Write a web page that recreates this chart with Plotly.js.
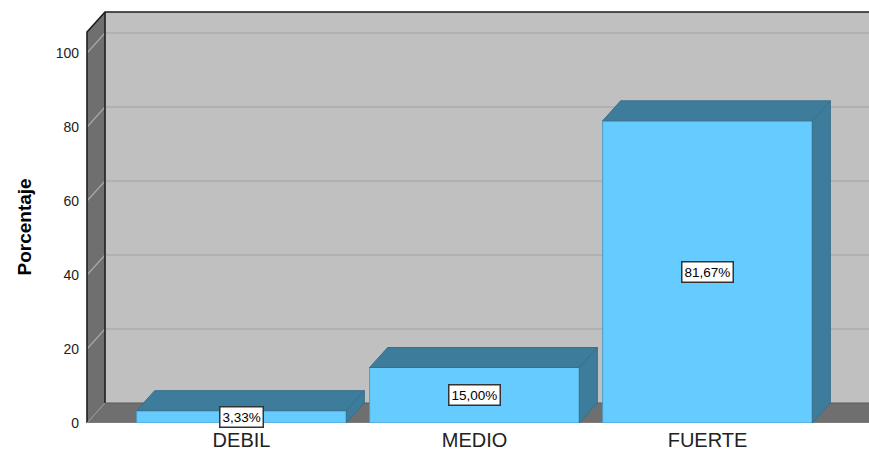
<!DOCTYPE html>
<html>
<head>
<meta charset="utf-8">
<script src="https://cdn.plot.ly/plotly-3.0.1.min.js"></script>
<style>html,body{margin:0;padding:0;background:#fff;}#chart{width:869px;height:452px;}</style>
</head>
<body>
<div id="chart"></div>
<script>
// ---- data ----
const categories = ['DEBIL', 'MEDIO', 'FUERTE'];
const percentages = [3.33, 15.00, 81.67];
const valueLabels = ['3,33%', '15,00%', '81,67%'];
const yTickVals = [0, 20, 40, 60, 80, 100];
const yTickText = ['0', '20', '40', '60', '80', '100'];
const yTitle = 'Porcentaje';

// ---- geometry (pseudo-3D) ----
const PX_PER_CAT = 233, CENTER0 = 241.5, PX_PER_UNIT = 3.7;
const ML = 80, MT = 10, MB = 29, W = 869, H = 452;
const xr0 = (ML - CENTER0) / PX_PER_CAT, xr1 = (W - CENTER0) / PX_PER_CAT;
const yr1 = (H - MT - MB) / PX_PER_UNIT;
const XL = (87 - CENTER0) / PX_PER_CAT;      // front edge of left wall
const XR = xr1 + 0.2;                         // beyond right edge
const DX = 18 / PX_PER_CAT, DY = 20 / PX_PER_UNIT;
const YTOP = (423 - 32) / PX_PER_UNIT;
const BW = 0.9;

const xs = categories.map((c, i) => i);

const wallGray = '#c0c0c0', sideGray = '#6f6f6f';
const shapes = [];
// back wall
shapes.push({type: 'rect', xref: 'x', yref: 'y', layer: 'below', x0: XL + DX, x1: XR, y0: DY, y1: YTOP + DY,
  fillcolor: wallGray, line: {width: 0}});
// back wall gridlines
yTickVals.slice(1).forEach(v => shapes.push({type: 'line', xref: 'x', yref: 'y', layer: 'below',
  x0: XL + DX, x1: XR, y0: v + DY, y1: v + DY, line: {color: '#acacac', width: 1.5}}));
// left wall
shapes.push({type: 'path', xref: 'x', yref: 'y', layer: 'below',
  path: `M${XL},0 L${XL},${YTOP} L${XL + DX},${YTOP + DY} L${XL + DX},${DY} Z`,
  fillcolor: sideGray, line: {width: 0}});
// floor
shapes.push({type: 'path', xref: 'x', yref: 'y', layer: 'below',
  path: `M${XL},0 L${XR},0 L${XR + DX},${DY} L${XL + DX},${DY} Z`,
  fillcolor: sideGray, line: {width: 0}});
// left wall gridlines
yTickVals.slice(1).forEach(v => shapes.push({type: 'line', xref: 'x', yref: 'y', layer: 'below',
  x0: XL, x1: XL + DX, y0: v, y1: v + DY, line: {color: '#a8a8a8', width: 1.2}}));
// outlines
const edge = {color: '#1e1e1e', width: 1.6};
shapes.push({type: 'path', xref: 'x', yref: 'y', layer: 'below',
  path: `M${XL},0 L${XL},${YTOP} L${XL + DX},${YTOP + DY} L${XR},${YTOP + DY}`, line: edge});
shapes.push({type: 'line', xref: 'x', yref: 'y', layer: 'below',
  x0: XL + DX, x1: XL + DX, y0: DY, y1: YTOP + DY, line: edge});
shapes.push({type: 'line', xref: 'x', yref: 'y', layer: 'below',
  x0: XL, x1: XR, y0: 0, y1: 0, line: {color: '#8a8a8a', width: 1.2}});
shapes.push({type: 'line', xref: 'x', yref: 'y', layer: 'below',
  x0: XL, x1: XL + DX, y0: 0, y1: DY, line: {color: '#9a9a9a', width: 1}});
shapes.push({type: 'line', xref: 'x', yref: 'y', layer: 'below',
  x0: XL + DX, x1: XR, y0: DY, y1: DY, line: {color: '#5a5a5a', width: 1}});

// ---- traces ----
const frontColor = '#66ccff', darkColor = '#3e7c9c', edgeColor = '#3a6f8c';
const traces = [];
traces.push({type: 'bar', x: xs, y: percentages, width: BW,
  marker: {color: frontColor, line: {color: '#4f9bc4', width: 1}},
  hoverinfo: 'skip', showlegend: false});
xs.forEach((x, i) => {
  const v = percentages[i];
  const l = x - BW / 2, r = x + BW / 2;
  traces.push({type: 'scatter', mode: 'lines', fill: 'toself', fillcolor: darkColor,
    x: [l, l + DX, r + DX, r, l], y: [v, v + DY, v + DY, v, v],
    line: {color: edgeColor, width: 1}, hoverinfo: 'skip', showlegend: false});
  traces.push({type: 'scatter', mode: 'lines', fill: 'toself', fillcolor: darkColor,
    x: [r, r, r + DX, r + DX, r], y: [0, v, v + DY, DY, 0],
    line: {color: edgeColor, width: 1}, hoverinfo: 'skip', showlegend: false});
});

const annotations = xs.map((x, i) => ({x: x, y: percentages[i] / 2, xref: 'x', yref: 'y',
  text: valueLabels[i], showarrow: false, bgcolor: '#ffffff', bordercolor: '#333333',
  borderwidth: 1.5, borderpad: 2, font: {family: 'Liberation Sans, Arial, sans-serif', size: 13.5, color: '#000'}}));
annotations.push({xref: 'paper', yref: 'y', x: (24 - ML) / (W - ML), y: YTOP / 2,
  xanchor: 'center', yanchor: 'middle', textangle: -90, showarrow: false,
  text: '<b>' + yTitle + '</b>', font: {family: 'Liberation Sans, Arial, sans-serif', size: 19, color: '#000'}});

const layout = {
  width: W, height: H,
  margin: {l: ML, r: 0, t: MT, b: MB, pad: 0},
  paper_bgcolor: '#ffffff', plot_bgcolor: '#ffffff',
  font: {family: 'Liberation Sans, Arial, sans-serif', color: '#222'},
  showlegend: false,
  xaxis: {range: [xr0, xr1], tickvals: xs, ticktext: categories, showgrid: false, zeroline: false,
    showline: false, ticks: '', ticklabelstandoff: 3, tickfont: {size: 20, color: '#222'}, fixedrange: true},
  yaxis: {range: [0, yr1], tickvals: yTickVals, ticktext: yTickText, showgrid: false, zeroline: false,
    showline: false, ticks: '', ticklabelstandoff: 0, tickfont: {size: 14, color: '#222'}, fixedrange: true},
  shapes: shapes,
  annotations: annotations
};

Plotly.newPlot('chart', traces, layout, {displayModeBar: false, staticPlot: true});
</script>
</body>
</html>
